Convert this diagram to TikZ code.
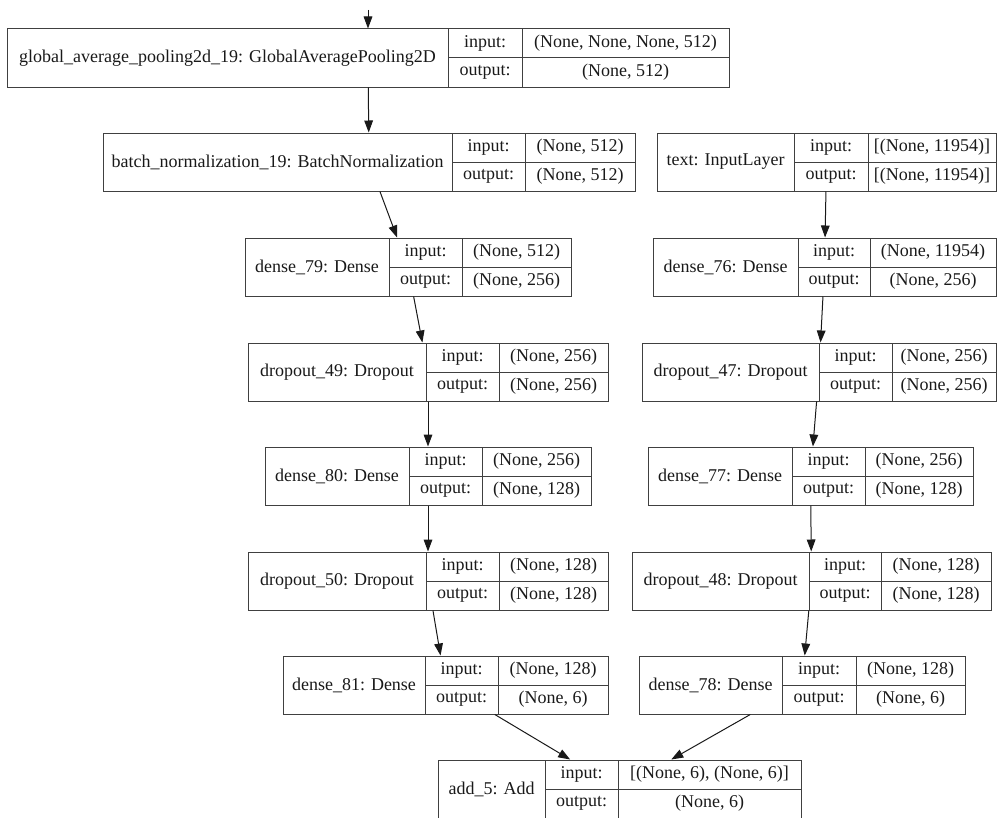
\documentclass[tikz,border=0pt]{standalone}
\usepackage{fontspec}
\setmainfont{Liberation Serif}
\newfontfamily\recfont{Liberation Serif}
\usetikzlibrary{arrows.meta,fit}

% one keras layer record: name, left, split1, split2, right, top, label, input, output
\newcommand{\kerasLayer}[9]{%
  \coordinate (#1-nw) at (#2,#6);
  \coordinate (#1-se) at (#5,#6+58);
  \node[recbox, fit=(#1-nw)(#1-se)] (#1) {};
  \draw[recbox] (#3,#6) -- (#3,#6+58) (#4,#6) -- (#4,#6+58) (#3,#6+29) -- (#5,#6+29);
  \node[celltext] (#1-name) at ({(#2+#3)/2},#6+29) {#7};
  \node[celltext] (#1-inkey) at ({(#3+#4)/2},#6+14.5) {input:};
  \node[celltext] (#1-outkey) at ({(#3+#4)/2},#6+43.5) {output:};
  \node[celltext] (#1-inval) at ({(#4+#5)/2},#6+14.5) {#8};
  \node[celltext] (#1-outval) at ({(#4+#5)/2},#6+43.5) {#9};
}

\begin{document}
\begin{tikzpicture}[x=0.75pt,y=-0.75pt,
    recbox/.style={draw=black!75,line width=0.75pt,inner sep=0pt},
    celltext/.style={inner sep=0pt,font=\recfont\fontsize{13.5}{16}\selectfont,text=black!90},
    flow/.style={-{Triangle[length=9pt,width=6.5pt]},line width=0.75pt,draw=black!90}]
    \useasboundingbox (0,0) rectangle (998,817);
    \clip (0,0) rectangle (998,817);

    % image branch
    \kerasLayer{gap}{7}{448}{522}{729}{29}{global\_average\_pooling2d\_19: GlobalAveragePooling2D}{(None, None, None, 512)}{(None, 512)}
    \kerasLayer{bn}{103}{452}{525}{635}{133}{batch\_normalization\_19: BatchNormalization}{(None, 512)}{(None, 512)}
    \kerasLayer{d79}{245}{389}{462}{571}{238}{dense\_79: Dense}{(None, 512)}{(None, 256)}
    \kerasLayer{do49}{248}{426}{499}{608}{343}{dropout\_49: Dropout}{(None, 256)}{(None, 256)}
    \kerasLayer{d80}{265}{409}{482}{591}{447}{dense\_80: Dense}{(None, 256)}{(None, 128)}
    \kerasLayer{do50}{248}{426}{499}{608}{552}{dropout\_50: Dropout}{(None, 128)}{(None, 128)}
    \kerasLayer{d81}{283}{425}{498}{608}{656}{dense\_81: Dense}{(None, 128)}{(None, 6)}

    % text branch
    \kerasLayer{txt}{657}{794}{868}{996}{133}{text: InputLayer}{[(None, 11954)]}{[(None, 11954)]}
    \kerasLayer{d76}{653}{798}{870}{996}{238}{dense\_76: Dense}{(None, 11954)}{(None, 256)}
    \kerasLayer{do47}{642}{819}{892}{996}{343}{dropout\_47: Dropout}{(None, 256)}{(None, 256)}
    \kerasLayer{d77}{648}{792}{865}{973}{447}{dense\_77: Dense}{(None, 256)}{(None, 128)}
    \kerasLayer{do48}{632}{809}{881}{991}{552}{dropout\_48: Dropout}{(None, 128)}{(None, 128)}
    \kerasLayer{d78}{639}{782}{856}{965}{656}{dense\_78: Dense}{(None, 128)}{(None, 6)}

    % merge
    \kerasLayer{add}{438}{545}{618}{801}{760}{add\_5: Add}{[(None, 6), (None, 6)]}{(None, 6)}

    \coordinate (src) at (368,10);
    \draw[flow] (src) -- (gap);
    \draw[flow] (gap) -- (bn);
    \draw[flow] (bn) -- (d79);
    \draw[flow] (d79) -- (do49);
    \draw[flow] (do49) -- (d80);
    \draw[flow] (d80) -- (do50);
    \draw[flow] (do50) -- (d81);
    \draw[flow] (d81) -- (add);
    \draw[flow] (txt) -- (d76);
    \draw[flow] (d76) -- (do47);
    \draw[flow] (do47) -- (d77);
    \draw[flow] (d77) -- (do48);
    \draw[flow] (do48) -- (d78);
    \draw[flow] (d78) -- (add);
\end{tikzpicture}
\end{document}
